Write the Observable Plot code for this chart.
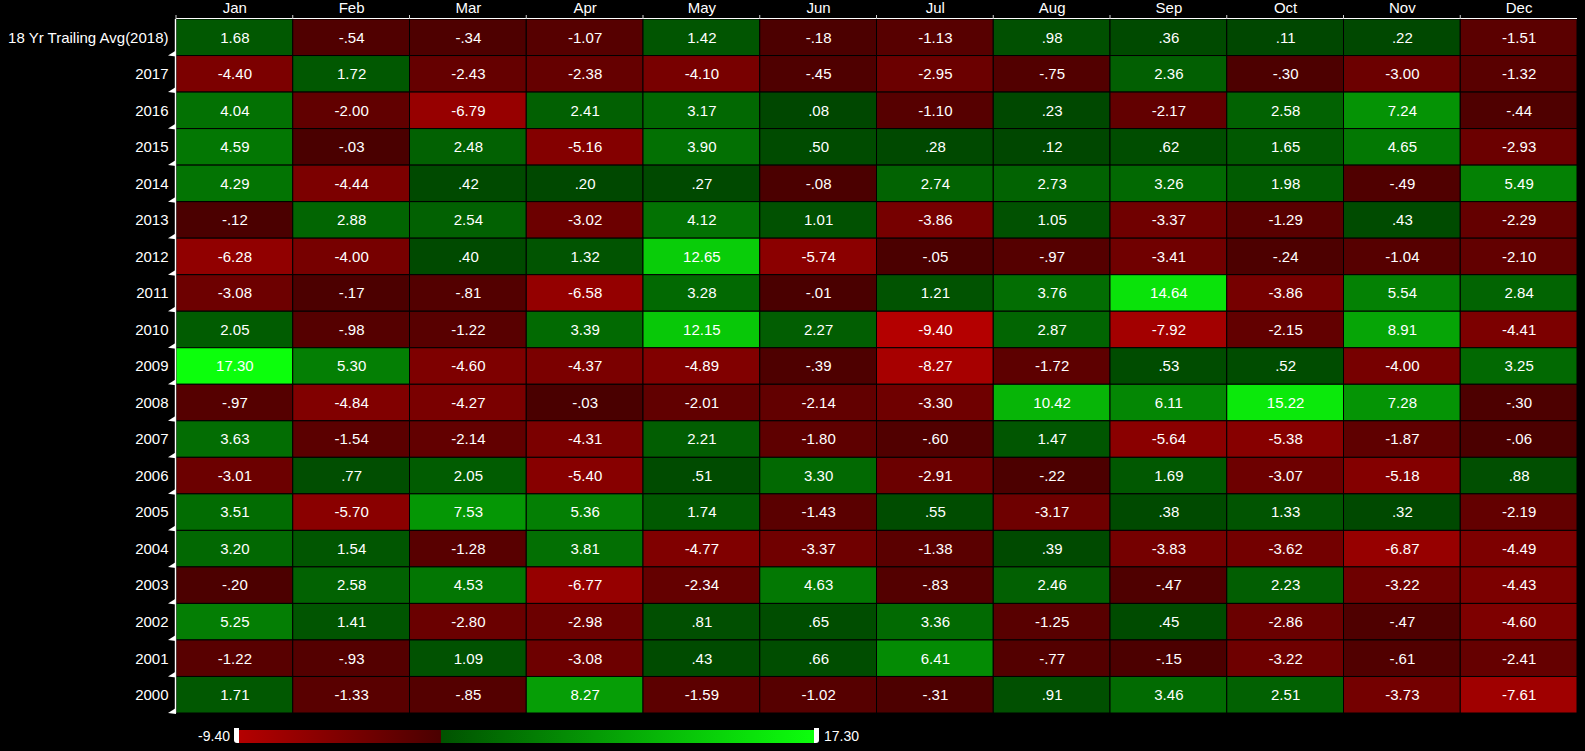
<!DOCTYPE html>
<html>
<head>
<meta charset="utf-8">
<script src="https://cdn.jsdelivr.net/npm/d3@7"></script>
<script src="https://cdn.jsdelivr.net/npm/@observablehq/plot@0.6"></script>
<style>
  html, body { margin: 0; padding: 0; background: #000; }
  #wrap { position: relative; width: 1585px; height: 751px; background: #000; overflow: hidden; font-family: "Liberation Sans", Arial, sans-serif; }
  #chart svg { display: block; }
  #legend { position: absolute; left: 0; top: 716px; width: 1585px; height: 35px; }
  .lg-txt { position: absolute; color: #fff; font-size: 14px; top: 12px; }
</style>
</head>
<body>
<div id="wrap">
  <div id="chart"></div>
  <div id="legend"></div>
</div>
<script>
const months = ["Jan","Feb","Mar","Apr","May","Jun","Jul","Aug","Sep","Oct","Nov","Dec"];
const rows = ["18 Yr Trailing Avg(2018)","2017","2016","2015","2014","2013","2012","2011","2010","2009","2008","2007","2006","2005","2004","2003","2002","2001","2000"];
const values = [
  [1.68, -0.54, -0.34, -1.07, 1.42, -0.18, -1.13, 0.98, 0.36, 0.11, 0.22, -1.51],
  [-4.40, 1.72, -2.43, -2.38, -4.10, -0.45, -2.95, -0.75, 2.36, -0.30, -3.00, -1.32],
  [4.04, -2.00, -6.79, 2.41, 3.17, 0.08, -1.10, 0.23, -2.17, 2.58, 7.24, -0.44],
  [4.59, -0.03, 2.48, -5.16, 3.90, 0.50, 0.28, 0.12, 0.62, 1.65, 4.65, -2.93],
  [4.29, -4.44, 0.42, 0.20, 0.27, -0.08, 2.74, 2.73, 3.26, 1.98, -0.49, 5.49],
  [-0.12, 2.88, 2.54, -3.02, 4.12, 1.01, -3.86, 1.05, -3.37, -1.29, 0.43, -2.29],
  [-6.28, -4.00, 0.40, 1.32, 12.65, -5.74, -0.05, -0.97, -3.41, -0.24, -1.04, -2.10],
  [-3.08, -0.17, -0.81, -6.58, 3.28, -0.01, 1.21, 3.76, 14.64, -3.86, 5.54, 2.84],
  [2.05, -0.98, -1.22, 3.39, 12.15, 2.27, -9.40, 2.87, -7.92, -2.15, 8.91, -4.41],
  [17.30, 5.30, -4.60, -4.37, -4.89, -0.39, -8.27, -1.72, 0.53, 0.52, -4.00, 3.25],
  [-0.97, -4.84, -4.27, -0.03, -2.01, -2.14, -3.30, 10.42, 6.11, 15.22, 7.28, -0.30],
  [3.63, -1.54, -2.14, -4.31, 2.21, -1.80, -0.60, 1.47, -5.64, -5.38, -1.87, -0.06],
  [-3.01, 0.77, 2.05, -5.40, 0.51, 3.30, -2.91, -0.22, 1.69, -3.07, -5.18, 0.88],
  [3.51, -5.70, 7.53, 5.36, 1.74, -1.43, 0.55, -3.17, 0.38, 1.33, 0.32, -2.19],
  [3.20, 1.54, -1.28, 3.81, -4.77, -3.37, -1.38, 0.39, -3.83, -3.62, -6.87, -4.49],
  [-0.20, 2.58, 4.53, -6.77, -2.34, 4.63, -0.83, 2.46, -0.47, 2.23, -3.22, -4.43],
  [5.25, 1.41, -2.80, -2.98, 0.81, 0.65, 3.36, -1.25, 0.45, -2.86, -0.47, -4.60],
  [-1.22, -0.93, 1.09, -3.08, 0.43, 0.66, 6.41, -0.77, -0.15, -3.22, -0.61, -2.41],
  [1.71, -1.33, -0.85, 8.27, -1.59, -1.02, -0.31, 0.91, 3.46, 2.51, -3.73, -7.61]
];
const colorDomain = [-9.40, -0.0001, 0.0001, 17.30];
const colorRange = ["#b40000", "#4a0000", "#004600", "#0cff0c"];

const data = [];
rows.forEach((r, i) => months.forEach((m, j) => data.push({r, m, v: values[i][j]})));

const fmt = v => {
  let s = Math.abs(v).toFixed(2);
  if (s.startsWith("0")) s = s.slice(1);
  return (v < 0 ? "-" : "") + s;
};

const W = 1585, H = 716, mT = 19, mB = 3, mL = 176, mR = 8;

const plot = Plot.plot({
  width: W, height: H,
  marginTop: mT, marginBottom: mB, marginLeft: mL, marginRight: mR,
  style: {background: "black", color: "white", fontFamily: "Liberation Sans, Arial, sans-serif", fontSize: "15px", overflow: "visible"},
  x: {domain: months, axis: "top", label: null, tickSize: 0, tickPadding: 7, padding: 0, round: false},
  y: {domain: rows, label: null, tickSize: 0, tickPadding: 8, padding: 0, round: false},
  color: {type: "linear", domain: colorDomain, range: colorRange, interpolate: "rgb"},
  marks: [
    Plot.cell(data, {x: "m", y: "r", fill: "v", stroke: "black", strokeWidth: 1}),
    Plot.text(data, {x: "m", y: "r", text: d => fmt(d.v), fill: "white", fontSize: 15})
  ]
});
document.getElementById("chart").appendChild(plot);

// axis lines and tick markers, from the plot's own band scales
const xs = plot.scale("x"), ys = plot.scale("y");
const xb = d3.scaleBand().domain(xs.domain).range(xs.range).padding(0);
const yb = d3.scaleBand().domain(ys.domain).range(ys.range).padding(0);
const svg = d3.select(plot);
const g = svg.append("g");
const x0 = xs.range[0], x1 = xs.range[1], y0 = ys.range[0], y1 = ys.range[1];
g.append("line").attr("x1", x0).attr("x2", x1).attr("y1", y0 - 0.5).attr("y2", y0 - 0.5).attr("stroke", "white").attr("stroke-width", 1.2);
g.append("line").attr("x1", x0 - 0.5).attr("x2", x0 - 0.5).attr("y1", y0).attr("y2", y1).attr("stroke", "white").attr("stroke-width", 1.4);
months.forEach((m, j) => {
  const xx = xb(m);
  g.append("line").attr("x1", xx).attr("x2", xx).attr("y1", y0 - 4).attr("y2", y0).attr("stroke", "#ccc").attr("stroke-width", 1);
});
rows.forEach(r => {
  const yy = yb(r) + yb.bandwidth();
  g.append("path").attr("d", `M${x0},${yy - 5}L${x0 - 8},${yy}L${x0},${yy + 1}Z`).attr("fill", "white");
});

// color legend
const lg = document.getElementById("legend");
const barL = 239, barR = 814;
const cs = d3.scaleLinear().domain([colorDomain[0], colorDomain[3]]).range([barL, barR]);
const zeroPct = ((cs(0) - barL) / (barR - barL) * 100).toFixed(2);
const bar = document.createElement("div");
bar.style.cssText = `position:absolute;left:${barL}px;top:14px;width:${barR - barL}px;height:13px;` +
  `background:linear-gradient(to right, #b40000 0%, #4a0000 ${zeroPct}%, #005200 ${zeroPct}%, #0cff0c 100%);`;
lg.appendChild(bar);
[[barL - 5, 0], [barR, 1]].forEach(([lx, k]) => {
  const t = document.createElement("div");
  t.style.cssText = `position:absolute;left:${lx}px;top:12px;width:5px;height:15px;background:#fff;border-radius:${k ? "0 0 3px 0" : "0 0 0 3px"};`;
  lg.appendChild(t);
});
const tl = document.createElement("div");
tl.className = "lg-txt";
tl.textContent = fmt(colorDomain[0]).replace(/^-\./, "-0.");
tl.style.right = (1585 - (barL - 9)) + "px";
lg.appendChild(tl);
const tr = document.createElement("div");
tr.className = "lg-txt";
tr.textContent = colorDomain[3].toFixed(2);
tr.style.left = (barR + 10) + "px";
lg.appendChild(tr);
</script>
</body>
</html>
